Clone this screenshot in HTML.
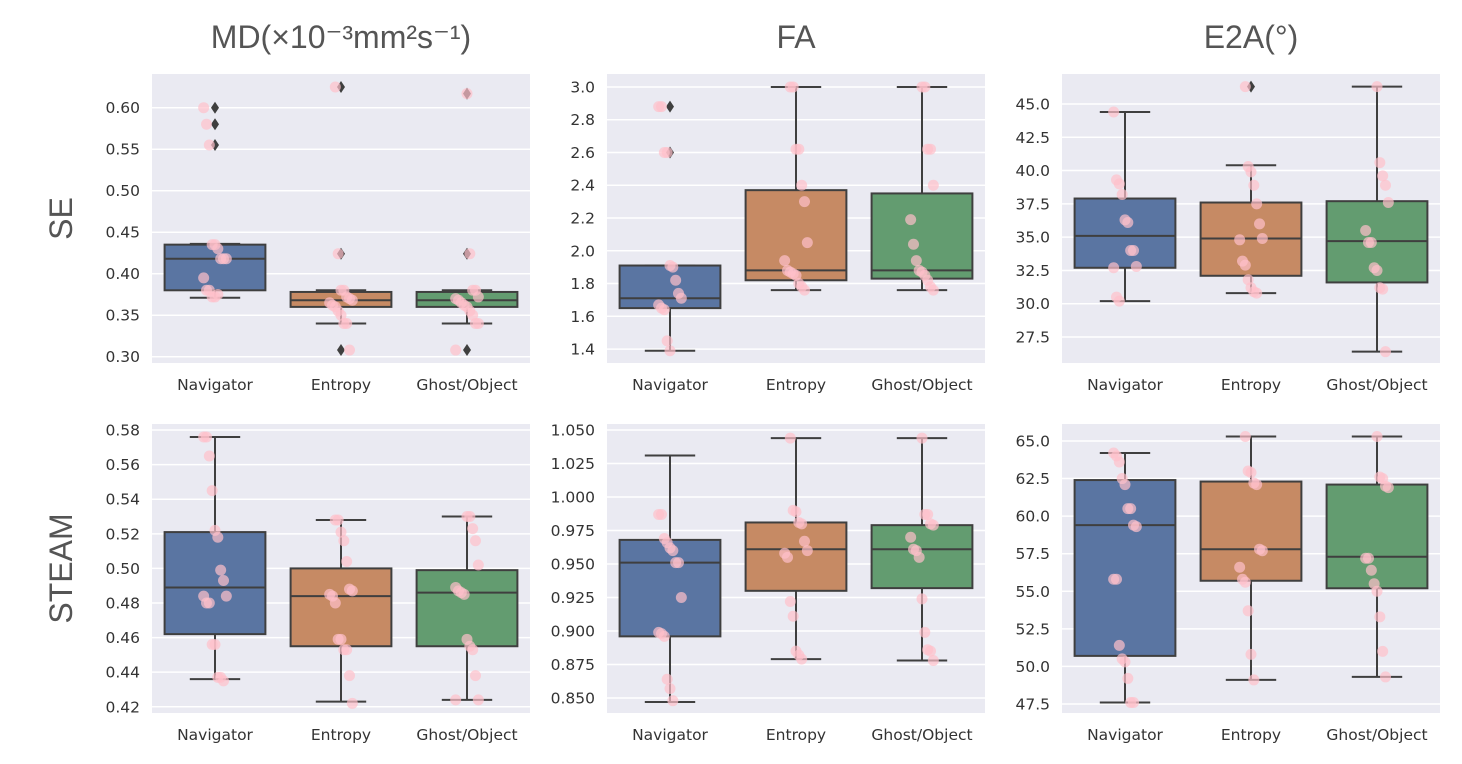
<!DOCTYPE html>
<html><head><meta charset="utf-8"><style>
html,body{margin:0;padding:0;background:#fff;}
svg{display:block;}
</style></head><body>
<svg id="chart" width="1462" height="764" viewBox="0 0 1462 764" xmlns="http://www.w3.org/2000/svg"></svg>
<script>
const categories = ["Navigator","Entropy","Ghost/Object"];
const colTitles = ["MD(×10⁻³mm²s⁻¹)","FA","E2A(°)"];
const rowTitles = ["SE","STEAM"];
const ticksMdSe = [0.30,0.35,0.40,0.45,0.50,0.55,0.60];
const ticksFaSe = [1.4,1.6,1.8,2.0,2.2,2.4,2.6,2.8,3.0];
const ticksE2aSe = [27.5,30.0,32.5,35.0,37.5,40.0,42.5,45.0];
const ticksMdSt = [0.42,0.44,0.46,0.48,0.50,0.52,0.54,0.56,0.58];
const ticksFaSt = [0.850,0.875,0.900,0.925,0.950,0.975,1.000,1.025,1.050];
const ticksE2aSt = [47.5,50.0,52.5,55.0,57.5,60.0,62.5,65.0];
// box stats: [whislo, q1, median, q3, whishi]
const boxMdSe = [[0.371,0.380,0.418,0.435,0.436],[0.340,0.360,0.368,0.378,0.380],[0.340,0.360,0.368,0.378,0.380]];
const boxFaSe = [[1.39,1.65,1.71,1.91,1.91],[1.76,1.82,1.88,2.37,3.0],[1.76,1.83,1.88,2.35,3.0]];
const boxE2aSe = [[30.2,32.7,35.1,37.9,44.4],[30.8,32.1,34.9,37.6,40.4],[26.4,31.6,34.7,37.7,46.3]];
const boxMdSt = [[0.436,0.462,0.489,0.521,0.576],[0.423,0.455,0.484,0.500,0.528],[0.424,0.455,0.486,0.499,0.530]];
const boxFaSt = [[0.847,0.896,0.951,0.968,1.031],[0.879,0.930,0.961,0.981,1.044],[0.878,0.932,0.961,0.979,1.044]];
const boxE2aSt = [[47.6,50.7,59.4,62.4,64.2],[49.1,55.7,57.8,62.3,65.3],[49.3,55.2,57.3,62.1,65.3]];
const outMdSe = [[0.60,0.58,0.555],[0.625,0.424,0.308],[0.617,0.424,0.308]];
const outFaSe = [[2.88,2.60],[],[]];
const outE2aSe = [[],[46.3],[]];
const outNone = [[],[],[]];
const ptsMdSe = [[0.60,0.58,0.555,0.435,0.435,0.43,0.418,0.418,0.418,0.395,0.38,0.38,0.372,0.372,0.375],
 [0.625,0.424,0.38,0.38,0.372,0.37,0.368,0.365,0.362,0.36,0.355,0.35,0.34,0.34,0.308],
 [0.617,0.424,0.38,0.38,0.372,0.37,0.368,0.365,0.362,0.36,0.355,0.35,0.34,0.34,0.308]];
const ptsFaSe = [[2.88,2.88,2.60,2.60,1.91,1.90,1.82,1.74,1.71,1.67,1.65,1.64,1.45,1.39],
 [3.0,3.0,2.62,2.62,2.40,2.30,2.05,1.94,1.88,1.87,1.86,1.85,1.80,1.78,1.76],
 [3.0,3.0,2.62,2.62,2.40,2.19,2.04,1.94,1.88,1.87,1.85,1.82,1.78,1.76]];
const ptsE2aSe = [[44.4,39.3,39.0,38.2,36.3,36.1,34.0,34.0,32.8,32.7,30.5,30.2],
 [46.3,40.3,39.9,38.9,37.5,36.0,34.9,34.8,33.2,32.9,31.8,31.2,30.9,30.8],
 [46.3,40.6,39.6,38.9,37.6,35.5,34.6,34.6,32.7,32.5,31.2,31.1,26.4]];
const ptsMdSt = [[0.576,0.576,0.565,0.545,0.522,0.518,0.499,0.493,0.484,0.484,0.480,0.480,0.456,0.456,0.437,0.437,0.435],
 [0.528,0.528,0.521,0.516,0.504,0.488,0.487,0.485,0.484,0.480,0.459,0.459,0.453,0.453,0.438,0.422],
 [0.530,0.530,0.523,0.516,0.502,0.489,0.487,0.486,0.485,0.459,0.455,0.453,0.438,0.424,0.424]];
const ptsFaSt = [[0.987,0.987,0.969,0.966,0.962,0.960,0.951,0.951,0.925,0.899,0.898,0.896,0.864,0.857,0.848],
 [1.044,0.990,0.989,0.981,0.980,0.967,0.960,0.958,0.955,0.922,0.911,0.885,0.882,0.879],
 [1.044,0.987,0.987,0.980,0.979,0.970,0.961,0.960,0.955,0.924,0.899,0.886,0.885,0.878]];
const ptsE2aSt = [[64.2,64.0,63.6,62.5,62.1,60.5,60.5,59.4,59.3,55.8,55.8,51.4,50.5,50.3,49.2,47.6,47.6],
 [65.3,63.0,62.9,62.2,62.1,57.8,57.7,56.6,55.8,55.6,53.7,50.8,49.1],
 [65.3,62.6,62.5,62.0,61.9,57.2,57.2,56.4,55.5,55.0,53.3,51.0,49.3]];
const domMdSe=[0.2924,0.6406], domFaSe=[1.315,3.079], domE2aSe=[25.55,47.25];
const domMdSt=[0.4164,0.5835], domFaSt=[0.8388,1.0545], domE2aSt=[46.9,66.13];

const panels = [
 {row:0,col:0,ticks:ticksMdSe,box:boxMdSe,out:outMdSe,pts:ptsMdSe,dom:domMdSe,dec:2},
 {row:0,col:1,ticks:ticksFaSe,box:boxFaSe,out:outFaSe,pts:ptsFaSe,dom:domFaSe,dec:1},
 {row:0,col:2,ticks:ticksE2aSe,box:boxE2aSe,out:outE2aSe,pts:ptsE2aSe,dom:domE2aSe,dec:1},
 {row:1,col:0,ticks:ticksMdSt,box:boxMdSt,out:outNone,pts:ptsMdSt,dom:domMdSt,dec:2},
 {row:1,col:1,ticks:ticksFaSt,box:boxFaSt,out:outNone,pts:ptsFaSt,dom:domFaSt,dec:3},
 {row:1,col:2,ticks:ticksE2aSt,box:boxE2aSt,out:outNone,pts:ptsE2aSt,dom:domE2aSt,dec:1}
];
const colors=["#5a75a2","#c68a64","#639c70"];
const colX=[152,607,1062], panelW=378, rowY=[74,424], panelH=289;
const NS="http://www.w3.org/2000/svg";
const svg=document.getElementById('chart');
function mk(tag,attrs,parent){const e=document.createElementNS(NS,tag);for(const k in attrs)e.setAttribute(k,attrs[k]);(parent||svg).appendChild(e);return e;}

colTitles.forEach((t,i)=>{
 const e=mk('text',{x:colX[i]+panelW/2,y:48,'text-anchor':'middle','font-family':'Liberation Sans, DejaVu Sans, sans-serif','font-size':32,fill:'#555'});
 e.textContent=t;
 
 
});
rowTitles.forEach((t,i)=>{
 const cy=rowY[i]+panelH/2;
 const e=mk('text',{x:0,y:0,transform:`translate(72,${cy}) rotate(-90)`,'text-anchor':'middle','font-family':'Liberation Sans, sans-serif','font-size':32,fill:'#555'});
 e.textContent=t;
 
 
});

panels.forEach(p=>{
 const x0=colX[p.col], y0=rowY[p.row];
 const g=mk('g',{});
 
 
 const Y=v=>y0+panelH-(v-p.dom[0])/(p.dom[1]-p.dom[0])*panelH;
 const bw=panelW/3;
 const X=i=>x0+bw*(i+0.5);
 mk('rect',{x:x0,y:y0,width:panelW,height:panelH,fill:'#eaeaf2'},g);
 p.ticks.forEach(t=>{
  const y=Y(t);
  mk('line',{x1:x0,x2:x0+panelW,y1:y,y2:y,stroke:'#fff','stroke-width':1.5},g);
  const tl=mk('text',{x:x0-12,y:y+5.5,'text-anchor':'end','font-family':'DejaVu Sans, sans-serif','font-size':15.5,fill:'#333'},g);
  tl.textContent=t.toFixed(p.dec);
  
  
 });
 categories.forEach((c,i)=>{
  const cx=X(i), b=p.box[i], hw=bw*0.4, cap=bw*0.2;
  const ec='#3f3f3f';
  mk('line',{x1:cx,x2:cx,y1:Y(b[0]),y2:Y(b[1]),stroke:ec,'stroke-width':2},g);
  mk('line',{x1:cx,x2:cx,y1:Y(b[3]),y2:Y(b[4]),stroke:ec,'stroke-width':2},g);
  mk('line',{x1:cx-cap,x2:cx+cap,y1:Y(b[0]),y2:Y(b[0]),stroke:ec,'stroke-width':2},g);
  mk('line',{x1:cx-cap,x2:cx+cap,y1:Y(b[4]),y2:Y(b[4]),stroke:ec,'stroke-width':2},g);
  const r=mk('rect',{x:cx-hw,y:Y(b[3]),width:hw*2,height:Y(b[1])-Y(b[3]),fill:colors[i],stroke:ec,'stroke-width':2},g);
  
  
  mk('line',{x1:cx-hw,x2:cx+hw,y1:Y(b[2]),y2:Y(b[2]),stroke:ec,'stroke-width':2},g);
  p.out[i].forEach(v=>{
   const y=Y(v);
   const d=mk('path',{d:`M${cx},${y-6}L${cx+4},${y}L${cx},${y+6}L${cx-4},${y}Z`,fill:'#3f3f3f'},g);
   
   
  });
  p.pts[i].forEach((v,k)=>{
   const off=(((k*37+i*11)%9)-4)/4*bw*0.09;
   const pt=mk('circle',{cx:cx+off,cy:Y(v),r:5.5,fill:'#ffc0cb','fill-opacity':0.7},g);
   
   
  });
  const xl=mk('text',{x:cx,y:y0+panelH+27,'text-anchor':'middle','font-family':'DejaVu Sans, sans-serif','font-size':15.5,fill:'#333'},g);
  xl.textContent=c;
  
  
 });
});
</script>
</body></html>
